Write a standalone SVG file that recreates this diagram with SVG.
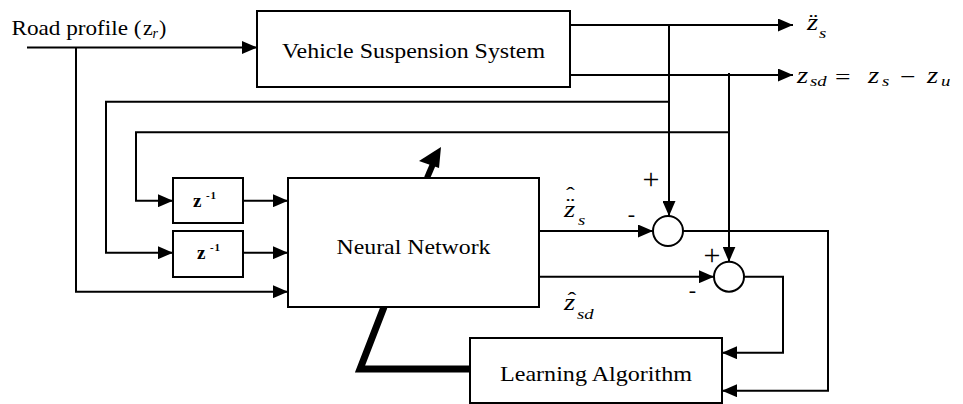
<svg xmlns="http://www.w3.org/2000/svg" width="963" height="404" viewBox="0 0 963 404" font-family="'Liberation Serif', 'Times New Roman', Times, serif">
<defs>
<style>
.box{fill:#fff;stroke:#000;stroke-width:2}
.ln{fill:none;stroke:#000;stroke-width:2}
.arr{marker-end:url(#ah)}
.t{font-family:'Liberation Serif','Times New Roman',Times,serif;fill:#000}
.ti{font-family:'Liberation Serif','Times New Roman',Times,serif;font-style:italic;fill:#000}
.tb{font-family:'Liberation Serif','Times New Roman',Times,serif;font-weight:bold;fill:#000}
.n{font-style:normal}
</style>
<marker id="ah" markerWidth="15" markerHeight="13" refX="15" refY="6.5" orient="auto" markerUnits="userSpaceOnUse">
<path d="M0,0 L15,6.5 L0,13 z" fill="#000"/>
</marker>
</defs>
<rect width="963" height="404" fill="#fff"/>

<g id="connectors">
<path class="ln arr" d="M27,47.5 H257"/>
<path class="ln arr" d="M76,47.5 V291.7 H288"/>
<path class="ln arr" d="M570,25 H793"/>
<path class="ln arr" d="M570,75 H793"/>
<path class="ln arr" d="M669,25 V216"/>
<path class="ln arr" d="M669,101.7 H106 V252.7 H173"/>
<path class="ln arr" d="M729,73 V261.7"/>
<path class="ln arr" d="M729,132.3 H136 V200.7 H173"/>
<path class="ln arr" d="M243,200.7 H288"/>
<path class="ln arr" d="M243,252.7 H288"/>
<path class="ln arr" d="M539,231 H653"/>
<path class="ln arr" d="M539,276.7 H714"/>
<path class="ln arr" d="M683,231 H828 V390.7 H722"/>
<path class="ln arr" d="M744,276.7 H783 V352.7 H722"/>
<path d="M384,307 L360,369 H470" fill="none" stroke="#000" stroke-width="7" stroke-linejoin="miter"/>
<path d="M427,178 L433,164" fill="none" stroke="#000" stroke-width="6"/>
<polygon points="441,147 419,161 439,168" fill="#000"/>
</g>

<g id="road-input">
<text class="t" x="11.5" y="35" font-size="22" textLength="130" lengthAdjust="spacingAndGlyphs">Road profile (</text>
<text class="t" x="143" y="35" font-size="22">z</text>
<text class="ti" x="152.5" y="38" font-size="14">r</text>
<text class="t" x="159" y="35" font-size="22">)</text>
</g>

<g id="vehicle">
<rect class="box" x="257" y="11" width="313" height="76"/>
<text class="t" x="413.5" y="58" font-size="22" text-anchor="middle" textLength="263" lengthAdjust="spacingAndGlyphs">Vehicle Suspension System</text>
</g>

<g id="out-acc">
<text class="ti" transform="translate(807,30) scale(1.25,1)" font-size="23"><tspan class="n" x="1.7" y="-2.5" font-size="21">¨</tspan><tspan x="0" y="0">z</tspan><tspan x="9.6" y="8" font-size="15">s</tspan></text>
</g>

<g id="out-zsd">
<text class="ti" transform="translate(797,82.7) scale(1.25,1)" font-size="23"><tspan x="0" y="0">z</tspan><tspan x="10.4" y="3.3" font-size="15">sd</tspan><tspan class="n" x="30.4" y="1" font-size="22">=</tspan><tspan x="56.8" y="0">z</tspan><tspan x="68" y="3.3" font-size="15">s</tspan><tspan class="n" x="82.4" y="1" font-size="22">−</tspan><tspan x="104" y="0">z</tspan><tspan x="115.2" y="3.3" font-size="15">u</tspan></text>
</g>

<g id="delay1">
<rect class="box" x="173" y="178" width="70" height="45"/>
<text class="tb" x="193" y="207" font-size="19">z</text>
<text class="tb" x="206" y="199" font-size="11">-</text>
<text class="tb" x="210.5" y="199" font-size="11">1</text>
</g>

<g id="delay2">
<rect class="box" x="173" y="231" width="70" height="46"/>
<text class="tb" x="197" y="259" font-size="19">z</text>
<text class="tb" x="210" y="251" font-size="11">-</text>
<text class="tb" x="214.5" y="251" font-size="11">1</text>
</g>

<g id="neural-network">
<rect class="box" x="288" y="178" width="251" height="129"/>
<text class="t" x="413.5" y="254" font-size="22" text-anchor="middle" textLength="154" lengthAdjust="spacingAndGlyphs">Neural Network</text>
</g>

<g id="est-acc">
<text class="ti" transform="translate(564,217) scale(1.25,1)" font-size="23"><tspan class="n" x="1.7" y="-15.3" font-size="21">ˆ</tspan><tspan class="n" x="1.7" y="-5.5" font-size="21">¨</tspan><tspan x="0" y="0">z</tspan><tspan x="11.2" y="8" font-size="15">s</tspan></text>
</g>

<g id="est-zsd">
<text class="ti" transform="translate(564,310) scale(1.25,1)" font-size="23"><tspan class="n" x="2.9" y="-3.3" font-size="21">ˆ</tspan><tspan x="0" y="0">z</tspan><tspan x="10.4" y="9" font-size="15">sd</tspan></text>
</g>

<g id="sum1">
<circle class="box" cx="668" cy="231" r="15"/>
<text class="t" x="651" y="189" font-size="30" text-anchor="middle">+</text>
<text class="t" x="631.5" y="221" font-size="22" text-anchor="middle">-</text>
</g>

<g id="sum2">
<circle class="box" cx="729" cy="276.7" r="15"/>
<text class="t" x="712" y="265" font-size="30" text-anchor="middle">+</text>
<text class="t" x="692.5" y="297" font-size="22" text-anchor="middle">-</text>
</g>

<g id="learning">
<rect class="box" x="470" y="338" width="252" height="65"/>
<text class="t" x="596" y="381" font-size="22" text-anchor="middle" textLength="192" lengthAdjust="spacingAndGlyphs">Learning Algorithm</text>
</g>
</svg>
